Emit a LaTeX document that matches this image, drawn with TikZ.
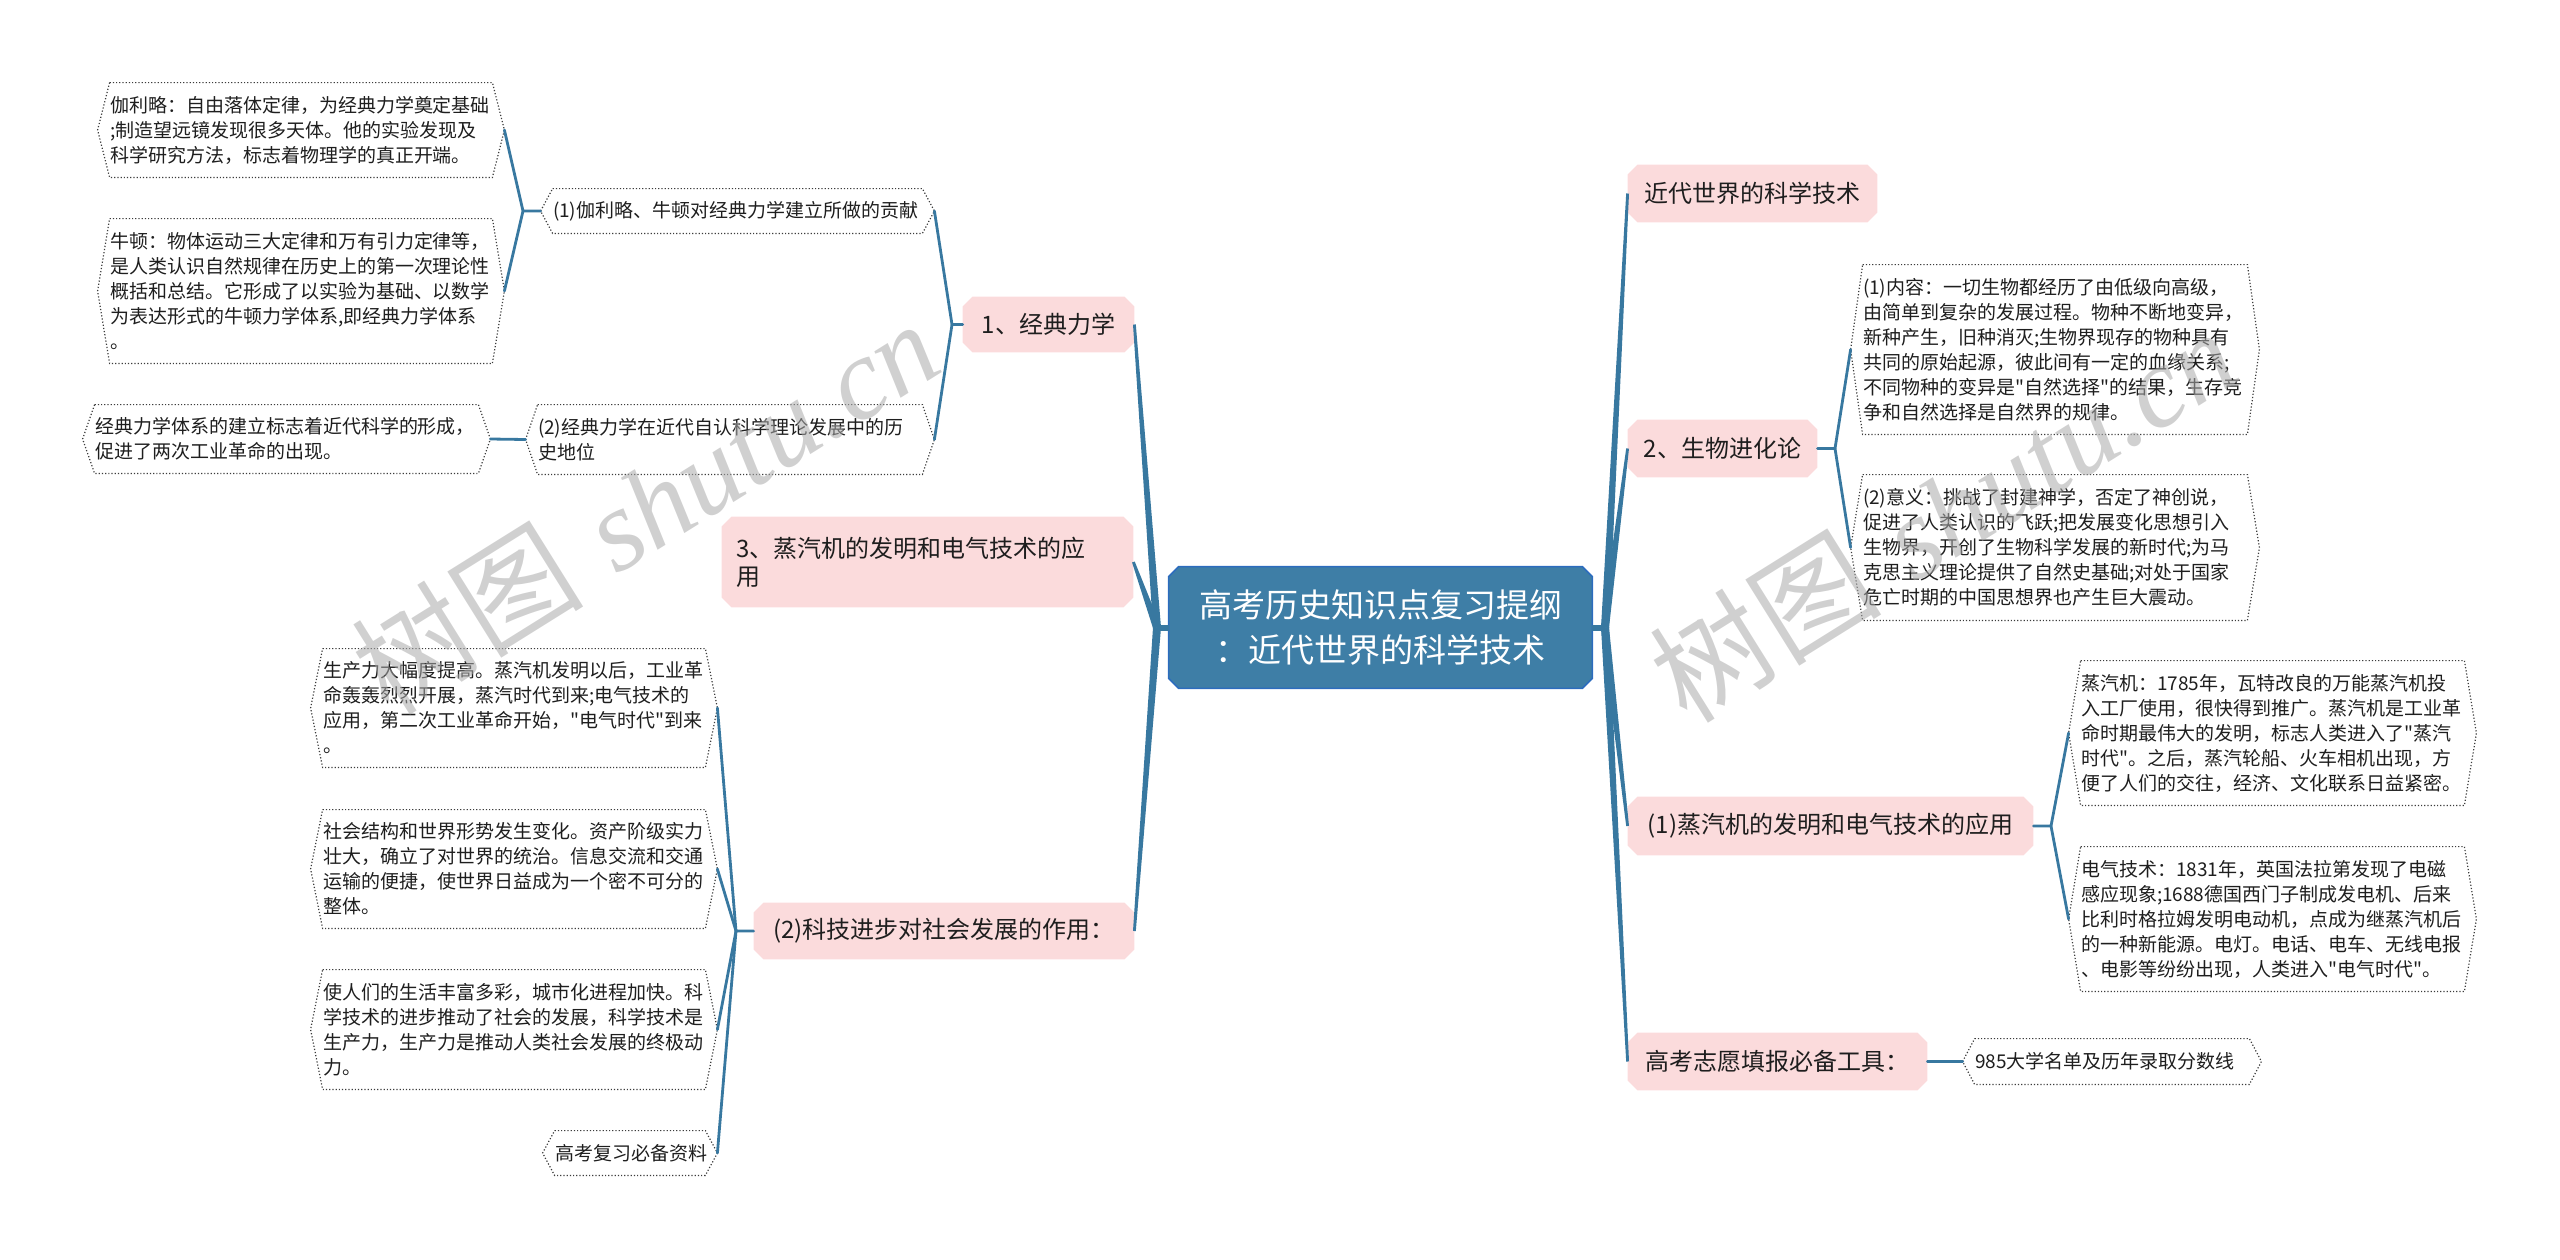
\documentclass[tikz,border=0pt]{standalone}
\usepackage{fontspec}
\newfontfamily\cjk{Noto Sans CJK SC}
\newfontfamily\wmfont{Liberation Serif}
\usetikzlibrary{calc}
\pgfdeclarelayer{bg}
\pgfsetlayers{bg,main}
\definecolor{trunkc}{RGB}{56,120,160}
\definecolor{ctrfill}{RGB}{62,126,166}
\definecolor{ctrdraw}{RGB}{44,108,190}
\definecolor{pinkc}{RGB}{251,219,220}
\definecolor{txtc}{RGB}{30,30,30}
\definecolor{dotc}{RGB}{60,60,60}
\definecolor{wmc}{RGB}{170,170,170}
\newcommand\mmtaper[4]{\fill[trunkc] ($(#1)!#3!90:(#2)$) -- ($(#2)!#4!-90:(#1)$) -- ($(#2)!#4!90:(#1)$) -- ($(#1)!#3!-90:(#2)$) -- cycle;}
\newcommand\mmoct[1]{([xshift=5pt]#1.north west) -- ([xshift=-5pt]#1.north east) -- ([yshift=-5pt]#1.north east) -- ([yshift=5pt]#1.south east) -- ([xshift=-5pt]#1.south east) -- ([xshift=5pt]#1.south west) -- ([yshift=5pt]#1.south west) -- ([yshift=-5pt]#1.north west) -- cycle}
\begin{document}
\begin{tikzpicture}[x=0.5pt,y=-0.5pt,
  ctr/.style={rectangle, text=white, inner sep=0pt,
    font=\cjk\fontsize{16.5}{22.5}\selectfont, align=center},
  lone/.style={rectangle, text=txtc, inner sep=0pt,
    font=\cjk\fontsize{12}{14}\selectfont, align=center},
  dbox/.style={inner sep=0pt, text=txtc, align=left,
    font=\cjk\fontsize{9.5}{12.5}\selectfont},
  dotline/.style={draw=dotc, densely dotted, line width=0.6pt},
  branch/.style={draw=trunkc, line width=1.4pt, line join=round, line cap=round},
  wm/.style={text=wmc, text opacity=0.55, inner sep=0pt, font=\fontsize{58}{62}\selectfont}
]
\useasboundingbox (0,0) rectangle (2560,1259);

% ---- centre
\node[ctr, minimum width=211.5pt, minimum height=60.5pt] (ctr) at (1380.5,627.5)
  {高考历史知识点复习提纲\\：近代世界的科学技术};

% ---- level 1 (pink)
\node[lone, minimum width=85.5pt, minimum height=27.5pt] (A) at (1048.5,324.5) {1、经典力学};
\node[lone, minimum width=205.5pt, minimum height=45pt, text width=191.5pt, align=left, inner xsep=7pt] (B) at (927.5,562)
  {3、蒸汽机的发明和电气技术的应\\用};
\node[lone, minimum width=190pt, minimum height=28pt] (C) at (944,931) {(2)科技进步对社会发展的作用：};
\node[lone, minimum width=124.5pt, minimum height=28.5pt] (D) at (1752.5,193.5) {近代世界的科学技术};
\node[lone, minimum width=94.5pt, minimum height=28.5pt] (E) at (1722.5,448.5) {2、生物进化论};
\node[lone, minimum width=202.5pt, minimum height=29pt] (F) at (1830.5,826) {(1)蒸汽机的发明和电气技术的应用};
\node[lone, minimum width=149.5pt, minimum height=28.5pt] (G) at (1777.5,1061.5) {高考志愿填报必备工具：};

\begin{pgfonlayer}{bg}
  \filldraw[fill=ctrfill, draw=ctrdraw, line width=0.8pt] \mmoct{ctr};
  \foreach \n in {A,B,C,D,E,F,G}{ \fill[pinkc] \mmoct{\n}; }
\end{pgfonlayer}

% ---- dotted boxes
\node[dbox, text width=191pt, minimum height=47pt] (a1a) at (301,130)
  {伽利略：自由落体定律，为经典力学奠定基础\\;制造望远镜发现很多天体。他的实验发现及\\科学研究方法，标志着物理学的真正开端。};
\node[dbox, text width=191pt, minimum height=72pt] (a1b) at (301,291)
  {牛顿：物体运动三大定律和万有引力定律等，\\是人类认识自然规律在历史上的第一次理论性\\概括和总结。它形成了以实验为基础、以数学\\为表达形式的牛顿力学体系,即经典力学体系\\。};
\node[dbox, text width=191.5pt, minimum height=34pt] (a2a) at (286.5,439)
  {经典力学体系的建立标志着近代科学的形成，\\促进了两次工业革命的出现。};
\node[dbox, text width=184.5pt, minimum height=22pt] (a1) at (737.5,211)
  {(1)伽利略、牛顿对经典力学建立所做的贡献};
\node[dbox, text width=192pt, minimum height=34.5pt] (a2) at (730,439.5)
  {(2)经典力学在近代自认科学理论发展中的历\\史地位};
\node[dbox, text width=191pt, minimum height=59pt] (c1) at (514,708)
  {生产力大幅度提高。蒸汽机发明以后，工业革\\命轰轰烈烈开展，蒸汽时代到来;电气技术的\\应用，第二次工业革命开始，"电气时代"到来\\。};
\node[dbox, text width=191pt, minimum height=59pt] (c2) at (514,869)
  {社会结构和世界形势发生变化。资产阶级实力\\壮大，确立了对世界的统治。信息交流和交通\\运输的便捷，使世界日益成为一个密不可分的\\整体。};
\node[dbox, text width=191pt, minimum height=59.5pt] (c3) at (514,1029.5)
  {使人们的生活丰富多彩，城市化进程加快。科\\学技术的进步推动了社会的发展，科学技术是\\生产力，生产力是推动人类社会发展的终极动\\力。};
\node[dbox, text width=75pt, minimum height=22pt] (c4) at (630,1153) {高考复习必备资料};
\node[dbox, text width=192pt, minimum height=84.5pt] (e1) at (2055,349.5)
  {(1)内容：一切生物都经历了由低级向高级，\\由简单到复杂的发展过程。物种不断地变异，\\新种产生，旧种消灭;生物界现存的物种具有\\共同的原始起源，彼此间有一定的血缘关系;\\不同物种的变异是"自然选择"的结果，生存竞\\争和自然选择是自然界的规律。};
\node[dbox, text width=192pt, minimum height=72.5pt] (e2) at (2055,547.5)
  {(2)意义：挑战了封建神学，否定了神创说，\\促进了人类认识的飞跃;把发展变化思想引入\\生物界，开创了生物科学发展的新时代;为马\\克思主义理论提供了自然史基础;对处于国家\\危亡时期的中国思想界也产生巨大震动。};
\node[dbox, text width=191.5pt, minimum height=72pt] (f1) at (2272.5,733)
  {蒸汽机：1785年，瓦特改良的万能蒸汽机投\\入工厂使用，很快得到推广。蒸汽机是工业革\\命时期最伟大的发明，标志人类进入了"蒸汽\\时代"。之后，蒸汽轮船、火车相机出现，方\\便了人们的交往，经济、文化联系日益紧密。};
\node[dbox, text width=191.5pt, minimum height=72pt] (f2) at (2272.5,919)
  {电气技术：1831年，英国法拉第发现了电磁\\感应现象;1688德国西门子制成发电机、后来\\比利时格拉姆发明电动机，点成为继蒸汽机后\\的一种新能源。电灯。电话、电车、无线电报\\、电影等纷纷出现，人类进入"电气时代"。};
\node[dbox, text width=137pt, minimum height=22.5pt] (g1) at (2112,1061.5) {985大学名单及历年录取分数线};

% hexagonal dotted outlines
\foreach \n in {a1a,a1b,a2a,a1,a2,c1,c2,c3,c4,e1,e2,f1,f2,g1}{
  \draw[dotline] (\n.north west) -- (\n.north east) -- ([xshift=6pt]\n.east) -- (\n.south east)
    -- (\n.south west) -- ([xshift=-6pt]\n.west) -- cycle;
}

% ---- trunk connectors
\coordinate (JL) at (1157,627.5);
\coordinate (JR) at (1605,627.5);
\draw[trunkc, line width=3pt] (ctr.west) -- (JL);
\draw[trunkc, line width=3pt] (ctr.east) -- (JR);
\mmtaper{JL}{A.east}{2pt}{0.7pt}
\mmtaper{JL}{B.east}{2pt}{0.7pt}
\mmtaper{JL}{C.east}{2pt}{0.7pt}
\mmtaper{JR}{D.west}{2pt}{0.7pt}
\mmtaper{JR}{E.west}{2pt}{0.7pt}
\mmtaper{JR}{F.west}{2pt}{0.7pt}
\mmtaper{JR}{G.west}{2pt}{0.7pt}

% ---- branch connectors
\coordinate (jA) at (952,324.5);
\draw[branch] (A.west) -- (jA) -- ([xshift=6pt]a1.east);
\draw[branch] (jA) -- ([xshift=6pt]a2.east);
\coordinate (jA1) at (523,211);
\draw[branch] ([xshift=-6pt]a1.west) -- (jA1) -- ([xshift=6pt]a1a.east);
\draw[branch] (jA1) -- ([xshift=6pt]a1b.east);
\draw[branch] ([xshift=-6pt]a2.west) -- ([xshift=6pt]a2a.east);
\coordinate (jC) at (736,931);
\draw[branch] (C.west) -- (jC) -- ([xshift=6pt]c1.east);
\draw[branch] (jC) -- ([xshift=6pt]c2.east);
\draw[branch] (jC) -- ([xshift=6pt]c3.east);
\draw[branch] (jC) -- ([xshift=6pt]c4.east);
\coordinate (jE) at (1835,448.5);
\draw[branch] (E.east) -- (jE) -- ([xshift=-6pt]e1.west);
\draw[branch] (jE) -- ([xshift=-6pt]e2.west);
\coordinate (jF) at (2051,826);
\draw[branch] (F.east) -- (jF) -- ([xshift=-6pt]f1.west);
\draw[branch] (jF) -- ([xshift=-6pt]f2.west);
\draw[branch] (G.east) -- ([xshift=-6pt]g1.west);

% ---- watermarks
\node[wm, rotate=32] (wm1) at (645,506) {{\cjk 树图}\ {\wmfont\itshape shutu.cn}};
\node[wm, rotate=32] (wm2) at (1943,514) {{\cjk 树图}\ {\wmfont\itshape shutu.cn}};
\end{tikzpicture}
\end{document}
